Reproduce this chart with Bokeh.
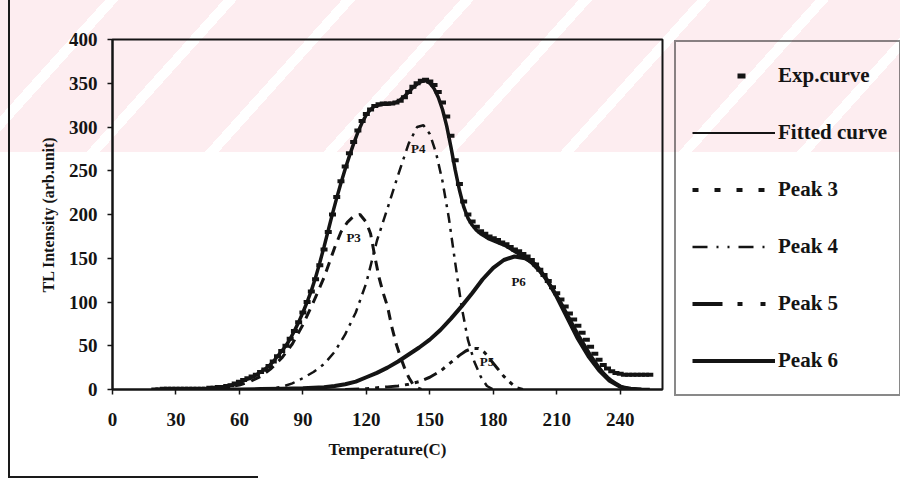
from bokeh.plotting import figure
from bokeh.layouts import row
from bokeh.models import Legend, LegendItem, FixedTicker, Range1d
from bokeh.core.properties import value
from bokeh.embed import file_html
from bokeh.resources import INLINE

# ---------------- data ----------------
T_GRID = list(range(20, 256, 2))          # temperature grid of the measured / fitted curves
EXP = [0, 0, 1, 1, 1, 1, 1, 1, 1, 1, 1, 1, 1, 2, 2, 3, 3, 4, 5, 7,
       9, 11, 13, 15, 17, 20, 23, 27, 32, 38,
       44, 50, 58, 67, 77, 88, 100, 112, 126, 142,
       160, 180, 200, 220, 238, 255, 270, 283, 296, 307,
       315, 320, 324, 326, 327, 327, 327, 328, 330, 334,
       340, 346, 350, 353, 354, 352, 348, 340, 328, 312,
       290, 262, 235, 215, 200, 192, 186, 181, 178, 175,
       173, 171, 168, 166, 163, 160, 158, 155, 152, 148,
       143, 137, 131, 124, 117, 110, 103, 95, 87, 80,
       73, 65, 57, 49, 41, 34, 28, 24, 21, 19,
       18, 17, 17, 17, 17, 17, 17, 17]
FITTED = [0, 0, 0, 0, 0, 0, 0, 0, 0, 0, 0, 0, 1, 1, 2, 2, 3, 4, 5, 6,
          8, 10, 12, 14, 17, 20, 23, 27, 32, 38,
          44, 50, 58, 67, 77, 88, 100, 113, 128, 145,
          163, 182, 201, 219, 236, 252, 267, 281, 294, 305,
          314, 320, 324, 325, 326, 326, 327, 328, 331, 335,
          340, 345, 349, 352, 353, 350, 344, 334, 320, 301,
          277, 251, 228, 209, 196, 188, 182, 178, 175, 172,
          170, 168, 166, 164, 161, 158, 155, 152, 149, 145,
          140, 135, 129, 122, 115, 107, 99, 90, 81, 72,
          63, 55, 47, 39, 32, 25, 19, 14, 10, 7,
          4, 2, 1, 1, 0, 0, 0, 0]

P3_T = [50, 55, 60, 65, 70, 75, 80, 85, 90, 95, 100, 105, 108, 111, 114, 117, 120,
        122, 124, 126, 128, 130, 132, 134, 136, 138, 140, 142, 144, 146]
P3_I = [1, 3, 5, 9, 15, 24, 36, 52, 74, 100, 128, 162, 180, 191, 198, 200, 191,
        178, 152, 128, 110, 95, 72, 53, 38, 25, 14, 6, 2, 0]

P4_T = [70, 75, 80, 85, 90, 95, 100, 105, 110, 115, 120, 125, 130, 135, 140, 144,
        147, 150, 153, 156, 159, 162, 165, 168, 171, 174, 177, 180]
P4_I = [0, 1, 3, 7, 13, 20, 29, 43, 63, 88, 122, 170, 207, 245, 281, 300,
        302, 292, 270, 238, 196, 145, 95, 57, 32, 15, 4, 0]

P5_T = [110, 120, 130, 135, 140, 145, 150, 155, 160, 164, 167, 170, 173, 176,
        179, 182, 185, 188, 191, 194]
P5_I = [0, 1, 3, 4, 6, 9, 14, 21, 31, 39, 44, 47, 47, 42,
        33, 24, 15, 8, 2, 0]

P6_T = [40, 50, 60, 70, 80, 90, 100, 105, 110, 115, 120, 125, 130, 135, 140, 145,
        150, 155, 160, 165, 170, 175, 180, 185, 190, 195, 200, 205, 210, 215,
        220, 225, 230, 235, 240, 245, 250]
P6_I = [0, 0, 0, 0.5, 1, 1.5, 2.5, 4, 6, 9, 14, 19, 25, 32, 40, 48,
        57, 68, 81, 95, 110, 126, 139, 148, 152, 150, 143, 127, 106, 82,
        58, 38, 22, 10, 3, 1, 0]

PEAK_LABELS = ["P3", "P4", "P5", "P6"]
PEAK_LABEL_T = [114, 144.5, 177, 192]
PEAK_LABEL_I = [174, 275, 32, 123]

X_TICKS = [0, 30, 60, 90, 120, 150, 180, 210, 240]
Y_TICKS = [0, 50, 100, 150, 200, 250, 300, 350, 400]

LEGEND_NAMES = ["Exp.curve", "Fitted curve", "Peak 3", "Peak 4", "Peak 5", "Peak 6"]

# ---------------- styling ----------------
FONT = "Liberation Serif"
INK = "#141414"
STRIPES = "repeating-linear-gradient(132deg, #fdedf0 0px, #fdedf0 78px, #ffffff 78px, #ffffff 88px)"

p = figure(width=664, height=481, output_backend="svg", toolbar_location=None,
           x_range=Range1d(0, 260), y_range=Range1d(0, 400),
           min_border_left=112, min_border_right=2, min_border_top=39, min_border_bottom=92)
p.frame_align = False

p.background_fill_color = None
p.border_fill_color = None
p.outline_line_color = INK
p.outline_line_width = 2
p.xgrid.visible = False
p.ygrid.visible = False

# scanned-page look: pale pink watermark band with white diagonal stripes, and outer frame lines
p.styles = {
    "background-image": "linear-gradient(#1a1a1a,#1a1a1a), linear-gradient(#1a1a1a,#1a1a1a), " + STRIPES,
    "background-position": "8px 0px, 8px 476px, 0px 0px",
    "background-size": "2px 478px, 250px 2px, 900px 152px",
    "background-repeat": "no-repeat",
    "background-color": "#ffffff",
}

for ax in (p.xaxis[0], p.yaxis[0]):
    ax.axis_line_color = INK
    ax.axis_line_width = 2
    ax.major_tick_line_color = INK
    ax.major_tick_line_width = 1.5
    ax.major_tick_out = 5
    ax.major_tick_in = 0
    ax.minor_tick_out = 0
    ax.minor_tick_in = 0
    ax.major_label_text_font = FONT
    ax.major_label_text_font_style = "bold"
    ax.major_label_text_font_size = "19px"
    ax.major_label_text_color = INK
    ax.axis_label_text_font = FONT
    ax.axis_label_text_font_style = "bold"
    ax.axis_label_text_color = INK

p.xaxis.ticker = FixedTicker(ticks=X_TICKS)
p.yaxis.ticker = FixedTicker(ticks=Y_TICKS)
p.xaxis.major_label_standoff = 18
p.yaxis.major_label_standoff = 10
p.xaxis.axis_label = "Temperature(C)"
p.xaxis.axis_label_text_font_size = "17px"
p.xaxis.axis_label_standoff = 11
p.yaxis.axis_label = "TL Intensity (arb.unit)"
p.yaxis.axis_label_text_font_size = "16px"
p.yaxis.axis_label_standoff = 9

# ---------------- curves ----------------
p.line(P3_T, P3_I, line_color=INK, line_width=3, line_dash="10 7")
p.line(P4_T, P4_I, line_color=INK, line_width=2.5, line_dash="10 6 3 6")
p.line(P5_T, P5_I, line_color=INK, line_width=3, line_dash="14 6 4 6 4 6")
p.line(P6_T, P6_I, line_color=INK, line_width=4)
p.rect(T_GRID, EXP, width=7, height=4, width_units="screen", height_units="screen",
       fill_color=INK, line_color=None)
p.line(T_GRID, FITTED, line_color=INK, line_width=3.5)

p.text(PEAK_LABEL_T, PEAK_LABEL_I, text=PEAK_LABELS, text_font=value(FONT),
       text_font_style="bold", text_font_size="13px", text_color=INK,
       text_align="center", text_baseline="middle")

# ---------------- legend panel (separate blank figure to the right) ----------------
lg = figure(width=236, height=481, output_backend="svg", toolbar_location=None,
            x_range=Range1d(0, 1), y_range=Range1d(0, 1),
            x_axis_location=None, y_axis_location=None,
            min_border_left=10, min_border_top=40, min_border_right=0, min_border_bottom=0)
lg.frame_align = False
lg.xgrid.visible = False
lg.ygrid.visible = False
lg.outline_line_color = None
lg.background_fill_color = None
lg.border_fill_color = None
lg.styles = {
    "background-image": STRIPES,
    "background-position": "-664px 0px",
    "background-size": "900px 152px",
    "background-repeat": "no-repeat",
    "background-color": "#ffffff",
}

# swatches start 11 px into the glyph area (leading gap in every dash pattern)
leg_styles = [
    dict(line_width=5, line_dash="0 56 8 200"),                        # Exp.curve marker
    dict(line_width=2, line_dash="0 11 83 200"),                       # Fitted curve
    dict(line_width=4, line_dash="0 11 6 16 6 16 6 16 6 100"),         # Peak 3
    dict(line_width=2.5, line_dash="0 11 15 9 2 9 2 9 15 9 2 100"),    # Peak 4
    dict(line_width=4, line_dash="0 11 30 15 5 18 5 100"),             # Peak 5
    dict(line_width=4, line_dash="0 11 83 200"),                       # Peak 6
]
NAN = float("nan")
items = []
for name, st in zip(LEGEND_NAMES, leg_styles):
    r = lg.line([NAN, NAN], [NAN, NAN], line_color=INK, **st)   # swatch-only renderer
    items.append(LegendItem(label=name, renderers=[r]))

legend = Legend(items=items, location="top_left", margin=0, padding=5,
                glyph_width=94, glyph_height=57, label_height=57, label_width=116,
                spacing=0, label_standoff=3,
                label_text_font=FONT, label_text_font_style="bold",
                label_text_font_size="21px", label_text_color=INK,
                border_line_color=INK, border_line_width=2, background_fill_alpha=0)
lg.add_layout(legend)

layout = row(p, lg, spacing=0)
open("out.html", "w").write(file_html(layout, INLINE))
